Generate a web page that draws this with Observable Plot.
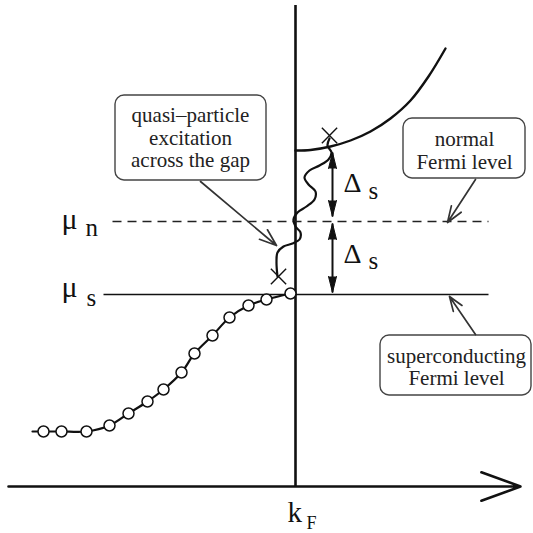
<!DOCTYPE html>
<html>
<head>
<meta charset="utf-8">
<script src="https://cdn.jsdelivr.net/npm/d3@7"></script>
<script src="https://cdn.jsdelivr.net/npm/@observablehq/plot@0.6"></script>
<style>
  html, body { margin: 0; padding: 0; background: #fff; }
  #chart svg { display: block; }
</style>
</head>
<body>
<div id="chart"></div>
<script>
// Schematic coordinates: k (momentum, left→right), e (drawing units, top→bottom)
const kAxis = [{k1: 8, k2: 520, e: 486}];
const kFermi = [{k: 295, e1: 5, e2: 486}];
const muLevelS = [{k1: 103, k2: 488, e: 294}];
const muLevelN = [{k1: 112, k2: 488, e: 221}];

// upper (normal quasi-particle) band
const bandK = [295, 310, 330, 350, 370, 390, 410, 428, 445];
const bandE = [150, 149.5, 146, 140, 131, 118, 100, 76, 48];

// lower band with the open circles
const lowK = [32, 43, 61, 86, 109, 128, 147, 163, 181, 194, 212, 229, 248, 266, 290];
const lowE = [431, 431, 431, 431, 425, 413, 401, 389, 372, 353, 335, 317, 305, 299, 293];
const circleK = lowK.slice(1);
const circleE = lowE.slice(1);

// wavy excitation path
const waveK = [277, 276, 277, 283, 292, 299, 300, 295, 293, 297, 306, 314, 315, 308, 304, 309, 319, 328, 331, 327, 329];
const waveE = [276, 262, 252, 246, 243, 239, 232, 226, 219, 212, 206, 199, 191, 184, 177, 170, 165, 159, 152, 145, 138];
const crossK = [278, 329];
const crossE = [276, 135];

// gap arrows (tips)
const gapArrows = [{k: 332, e1: 152, e2: 216}, {k: 332, e1: 223, e2: 292}];

// annotation boxes
const boxes = [
  {k1: 115, k2: 266, e1: 95, e2: 180},
  {k1: 403, k2: 525, e1: 118, e2: 178},
  {k1: 380, k2: 531, e1: 335, e2: 395}
];
const boxLines = [
  {text: "quasi\u2013particle", k: 190, e: 121},
  {text: "excitation", k: 190, e: 144},
  {text: "across the gap", k: 190, e: 166},
  {text: "normal", k: 464, e: 145},
  {text: "Fermi level", k: 464, e: 168},
  {text: "superconducting", k: 456, e: 362},
  {text: "Fermi level", k: 456, e: 384}
];
const pointers = [
  {k1: 200, e1: 181, k2: 276, e2: 245},
  {k1: 475, e1: 179, k2: 447, e2: 222},
  {k1: 475, e1: 334, k2: 449, e2: 296}
];
const symbolLabels = [
  {text: "\u03bc", k: 61, e: 228, size: 30},
  {text: "n", k: 85, e: 235, size: 25},
  {text: "\u03bc", k: 61, e: 296, size: 30},
  {text: "s", k: 86, e: 305, size: 25},
  {text: "\u0394", k: 343, e: 191, size: 28},
  {text: "s", k: 368, e: 198, size: 25},
  {text: "\u0394", k: 343, e: 262, size: 28},
  {text: "s", k: 368, e: 268, size: 25},
  {text: "k", k: 287, e: 521, size: 29},
  {text: "F", k: 306, e: 528, size: 18}
];

const band = bandK.map((k, i) => ({k, e: bandE[i]}));
const low = lowK.map((k, i) => ({k, e: lowE[i]}));
const circles = circleK.map((k, i) => ({k, e: circleE[i]}));
const wave = waveK.map((k, i) => ({k, e: waveE[i]}));
const crosses = crossK.map((k, i) => ({k, e: crossE[i]}));
const heads = gapArrows.flatMap(a => [
  {k: a.k, e: a.e1, rot: 0}, {k: a.k, e: a.e2, rot: 180}
]);

const serif = "'Liberation Serif', 'Times New Roman', Times, serif";

const chart = Plot.plot({
  width: 533,
  height: 533,
  margin: 0,
  x: {domain: [0, 533], axis: null},
  y: {domain: [0, 533], reverse: true, axis: null},
  style: {background: "#fff", fontFamily: serif},
  marks: [
    // axes
    Plot.arrow(kAxis, {x1: "k1", x2: "k2", y1: "e", y2: "e", stroke: "#111", strokeWidth: 2.6, headLength: 24, headAngle: 40}),
    Plot.ruleX(kFermi, {x: "k", y1: "e1", y2: "e2", stroke: "#111", strokeWidth: 2.6}),
    // chemical potentials
    Plot.link(muLevelS, {x1: "k1", x2: "k2", y1: "e", y2: "e", stroke: "#111", strokeWidth: 1.5}),
    Plot.link(muLevelN, {x1: "k1", x2: "k2", y1: "e", y2: "e", stroke: "#222", strokeWidth: 1.4, strokeDasharray: "9,6"}),
    // bands
    Plot.line(band, {x: "k", y: "e", curve: "catmull-rom", stroke: "#111", strokeWidth: 2.4}),
    Plot.line(low, {x: "k", y: "e", curve: "catmull-rom", stroke: "#111", strokeWidth: 2.2}),
    Plot.dot(circles, {x: "k", y: "e", r: 5.5, fill: "white", stroke: "#111", strokeWidth: 1.5}),
    // excitation
    Plot.line(wave, {x: "k", y: "e", curve: "catmull-rom", stroke: "#111", strokeWidth: 2.2}),
    Plot.dot(crosses, {x: "k", y: "e", symbol: "times", r: 7, stroke: "#111", strokeWidth: 1.4}),
    // gap arrows
    Plot.link(gapArrows, {x1: "k", x2: "k", y1: "e1", y2: "e2", stroke: "#111", strokeWidth: 2}),
    Plot.vector(heads, {x: "k", y: "e", rotate: "rot", anchor: "end", length: 16, shape: "spike", r: 4, fill: "#111", stroke: "#111", strokeWidth: 1}),
    // boxes
    Plot.rect(boxes, {x1: "k1", x2: "k2", y1: "e1", y2: "e2", rx: 9, fill: "white", stroke: "#444", strokeWidth: 1.4}),
    Plot.text(boxLines, {x: "k", y: "e", text: "text", fontFamily: serif, fontSize: 21, textAnchor: "middle", lineAnchor: "bottom", fill: "#222"}),
    Plot.arrow(pointers, {x1: "k1", y1: "e1", x2: "k2", y2: "e2", stroke: "#333", strokeWidth: 1.7, headLength: 16, headAngle: 40}),
    // symbols
    Plot.text(symbolLabels, {x: "k", y: "e", text: "text", fontFamily: serif, fontSize: d => d.size, textAnchor: "start", lineAnchor: "bottom", fill: "#111"})
  ]
});
document.getElementById("chart").append(chart);
</script>
</body>
</html>
